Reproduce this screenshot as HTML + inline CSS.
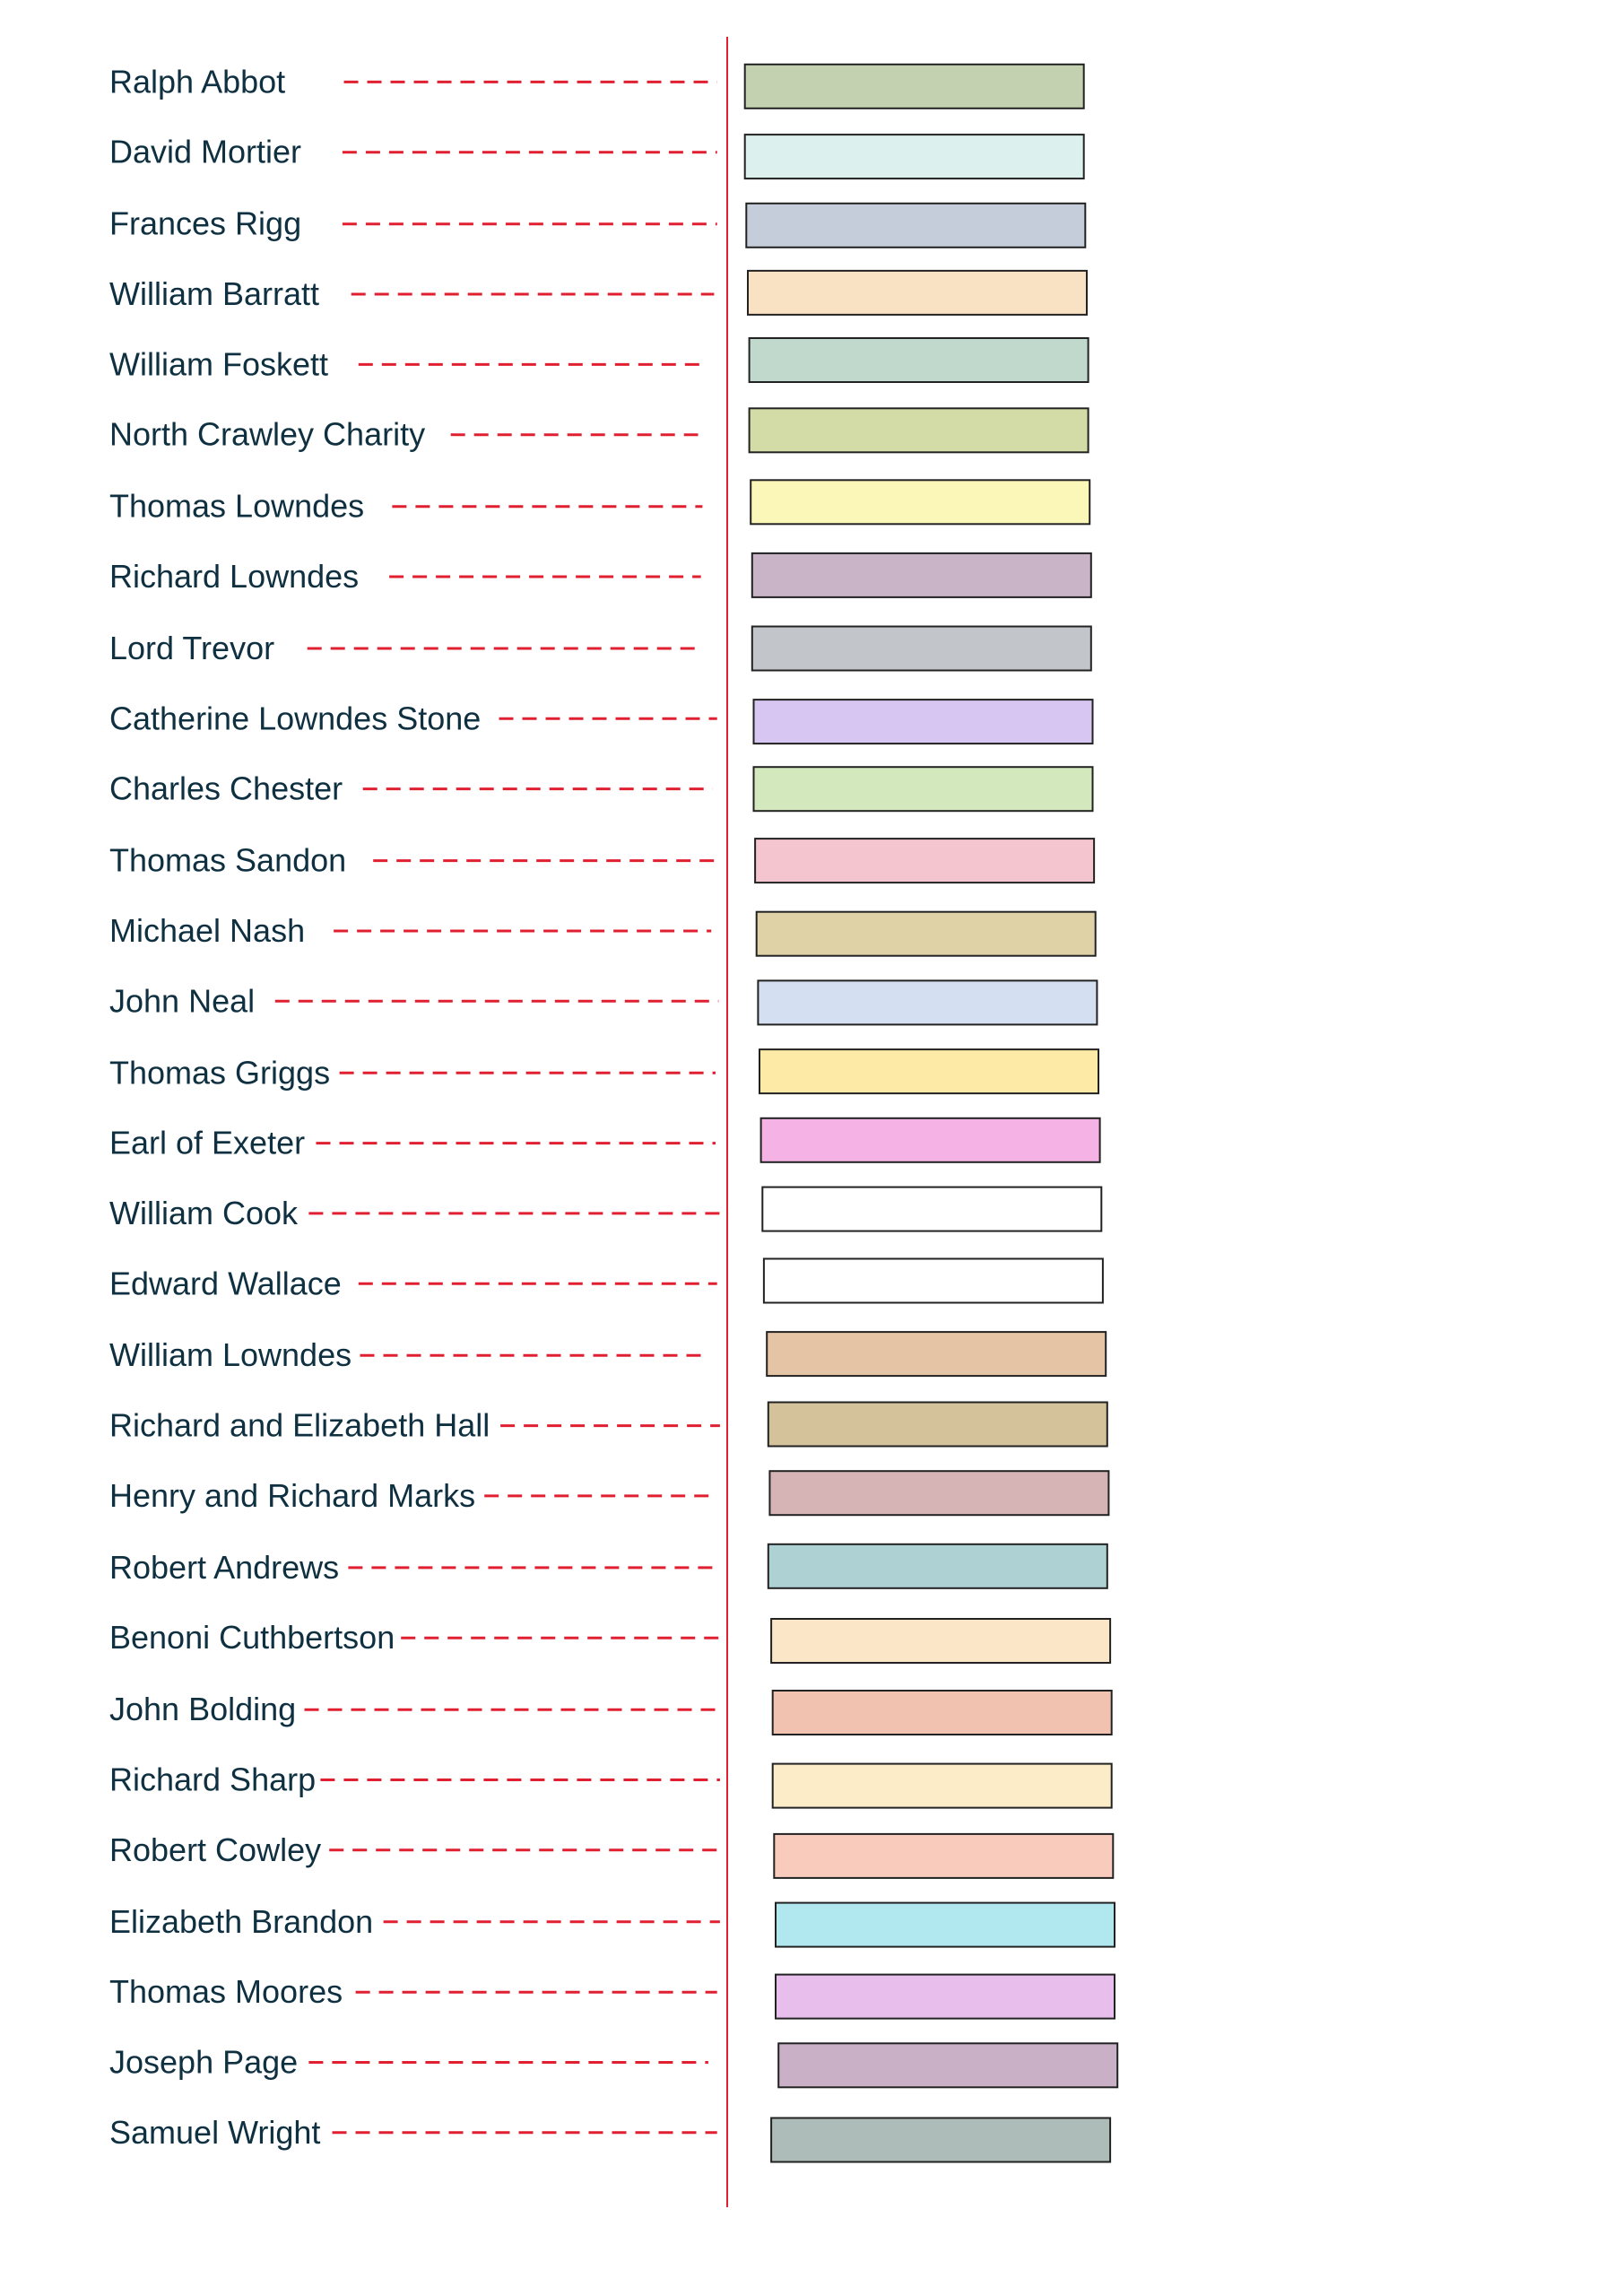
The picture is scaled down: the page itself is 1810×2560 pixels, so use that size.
<!DOCTYPE html>
<html><head><meta charset="utf-8"><style>
html,body{margin:0;padding:0;background:#fff;}
svg{display:block;}
text{font-family:"Liberation Sans",sans-serif;font-size:36px;fill:#0f3040;}
</style></head><body>
<svg width="1810" height="2560" viewBox="0 0 1810 2560" xmlns="http://www.w3.org/2000/svg">
<g id="rows"></g>
<line x1="811" y1="41" x2="811" y2="2461" stroke="#e02030" stroke-width="2"/>
</svg>
<script>
const names=["Ralph Abbot","David Mortier","Frances Rigg","William Barratt","William Foskett","North Crawley Charity","Thomas Lowndes","Richard Lowndes","Lord Trevor","Catherine Lowndes Stone","Charles Chester","Thomas Sandon","Michael Nash","John Neal","Thomas Griggs","Earl of Exeter","William Cook","Edward Wallace","William Lowndes","Richard and Elizabeth Hall","Henry and Richard Marks","Robert Andrews","Benoni Cuthbertson","John Bolding","Richard Sharp","Robert Cowley","Elizabeth Brandon","Thomas Moores","Joseph Page","Samuel Wright"];
const ty=[56,104,153,201,249,297,346,394,443,491,539,588,636,684,733,781,829,877,926,974,1022,1071,1119,1168,1216,1264,1313,1361,1409,1457];
const ds=[235,234,234,240,245,308,268,266,210,341,248,255,228,188,232,216,211,245,246,342,331,238,274,208,219,225,262,243,211,227];
const de=[490,490,490,488,483,477,480,479,477,490,487,488,486,491,489,489,492,490,485,492,490,490,492,490,492,492,492,490,484,490];
const bx=[509,509,510,511,512,512,513,514,514,515,515,516,517,518,519,520,521,522,524,525,526,525,527,528,528,529,530,530,532,527];
const by=[44,92,139,185,231,279,328,378,428,478,524,573,623,670,717,764,811,860,910,958,1005,1055,1106,1155,1205,1253,1300,1349,1396,1447];
const col=["#c4d1b0","#dcf1ee","#c4cdd9","#f9e2c3","#c0d9cc","#d3dba6","#fbf7b9","#c8b4c6","#c2c6cb","#d8c6f2","#d4e8bd","#f4c4cf","#e0d2a7","#d4e0f1","#fdeaa6","#f4b2e5","#ffffff","#ffffff","#e5c4a6","#d3c29a","#d6b3b5","#aed1d4","#fbe7c8","#f1c2b0","#fcecc8","#f8cbbd","#b1e8ef","#e8bfec","#c9b0c7","#adbcb8"];
const s=1.632;let h="";
for(let i=0;i<30;i++){
 const y=ty[i]*s;
 h+=`<text x="122" y="${(y+12).toFixed(1)}">${names[i]}</text>`;
 h+=`<line x1="${(ds[i]*s).toFixed(1)}" y1="${y.toFixed(1)}" x2="${(de[i]*s).toFixed(1)}" y2="${y.toFixed(1)}" stroke="#e02030" stroke-width="3" stroke-dasharray="16,10"/>`;
 h+=`<rect x="${(bx[i]*s).toFixed(1)}" y="${(by[i]*s).toFixed(1)}" width="378" height="49" fill="${col[i]}" stroke="#222" stroke-width="2"/>`;
}
document.getElementById("rows").innerHTML=h;
</script>
</body></html>
